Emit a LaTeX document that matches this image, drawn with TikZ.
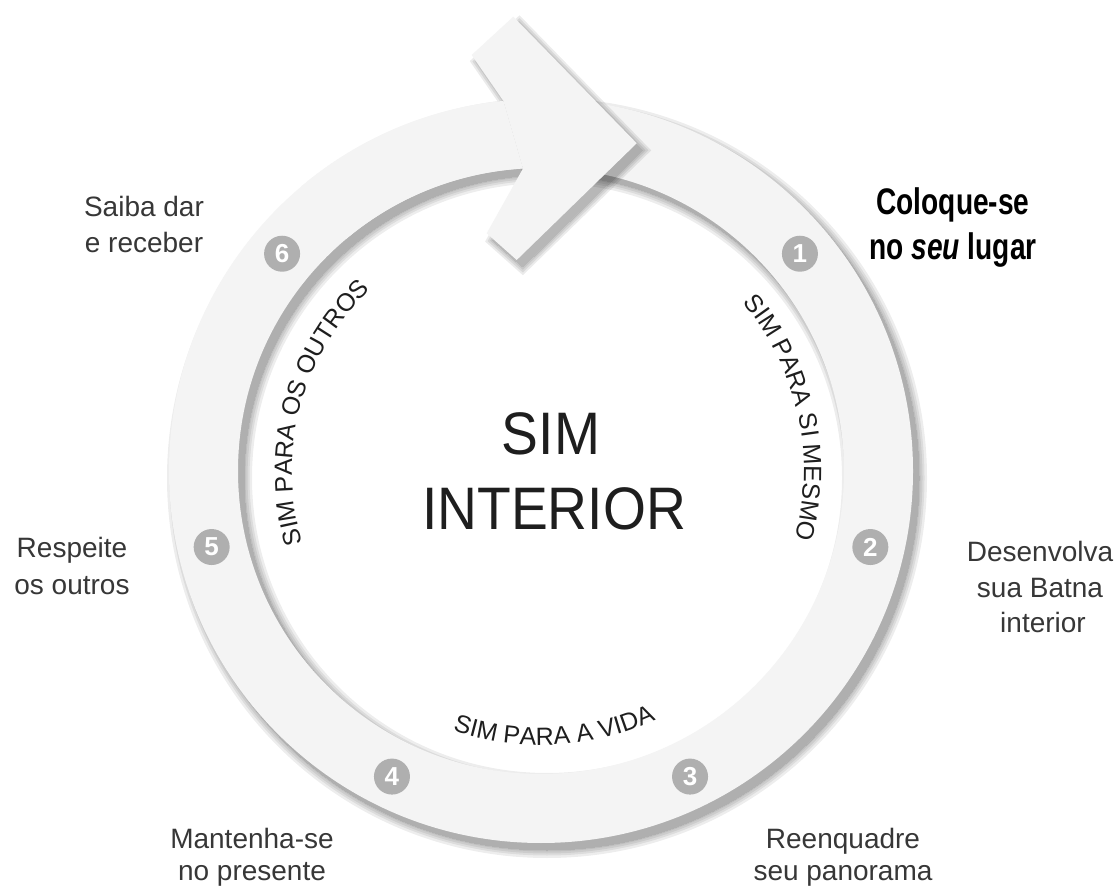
\documentclass[tikz,border=0pt]{standalone}
\usepackage{fontspec}
\setmainfont{Liberation Sans}
\newfontfamily\condfont[FakeStretch=0.76]{Liberation Sans}
\newfontfamily\midfont[FakeStretch=0.92]{Liberation Sans}
\usetikzlibrary{decorations.text,calc}
\definecolor{ringc}{RGB}{244,244,244}
\definecolor{numc}{RGB}{175,175,175}
\definecolor{labc}{RGB}{55,55,55}
\definecolor{inkc}{RGB}{30,30,30}
\newcommand\curvefont{\fontsize{25}{25}\selectfont}
\newcommand\labfont{\fontsize{28}{28}\selectfont}
\tikzset{
  ringshape/.style={insert path={(541,423) circle[radius=372pt] (541,423) circle[radius=303pt]}},
  arrowshape/.style={insert path={(471.7,839) -- (513.3,877.3) -- (636.7,750.7) -- (516.7,634) -- (486.7,660.7) -- (523,725.5) -- (503.4,793.1) -- cycle}},
  numcirc/.style={circle, fill=numc, minimum size=36pt, inner sep=0pt, text=white, font=\fontsize{26}{26}\selectfont\bfseries},
  lab/.style={anchor=base, text=labc, font=\labfont, inner sep=0pt},
  curvetext/.style={decorate, decoration={text along path, text align=center, text={|\curvefont\color{inkc}|#1}}}
}
\begin{document}
\begin{tikzpicture}[x=1pt,y=1pt]
\path[use as bounding box, fill=white] (0,0) rectangle (1118,894);
% ring shadow
\foreach \w in {16,11,7,3,0}{
  \begin{scope}[shift={(6,-7)}, transparency group, opacity=0.07]
    \filldraw[black, even odd rule, line width=\w pt, ringshape];
  \end{scope}
}
% ring
\fill[ringc, even odd rule, ringshape];
% arrowhead shadow
\foreach \w in {12,8,4,0}{
  \begin{scope}[shift={(6,-7)}, transparency group, opacity=0.08]
    \filldraw[black, line width=\w pt, arrowshape];
  \end{scope}
}
% cover ring body left of arrowhead
\fill[ringc] (503.4,793.1) arc[start angle=95.8, end angle=130, radius=372pt]
  -- (346.2,655.1) arc[start angle=130, end angle=93.4, radius=303pt] -- cycle;
% arrowhead
\fill[ringc, arrowshape];

% numbers
\node[numcirc] (n1) at ($(541,423)+(40:338pt)$) {1};
\node[numcirc] (n2) at ($(541,423)+(-13:338pt)$) {2};
\node[numcirc] (n3) at ($(541,423)+(-64:340pt)$) {3};
\node[numcirc] (n4) at ($(541,423)+(244:340pt)$) {4};
\node[numcirc] (n5) at ($(541,423)+(193:338pt)$) {5};
\node[numcirc] (n6) at ($(541,423)+(140:338pt)$) {6};

% curved texts
\path[curvetext={SIM PARA SI MESMO}] ($(541,423)+(47:263pt)$) arc[start angle=47, end angle=-22, radius=263pt];
\path[curvetext={SIM PARA OS OUTROS}] ($(541,423)+(205:249pt)$) arc[start angle=205, end angle=125, radius=249pt];
\path[curvetext={SIM PARA A VIDA}] ($(541,423)+(240:274pt)$) arc[start angle=240, end angle=306, radius=274pt];

% centre
\node[anchor=base, inner sep=0pt, text=inkc, font=\midfont\fontsize{60}{60}\selectfont] (sim) at (551,439) {SIM};
\node[anchor=base, inner sep=0pt, text=inkc, font=\midfont\fontsize{60}{60}\selectfont] (interior) at (554,364) {INTERIOR};

% labels
\node[anchor=base, inner sep=0pt, text=black, font=\condfont\bfseries\fontsize{37}{37}\selectfont] (l1a) at (953,679) {Coloque-se};
\node[anchor=base, inner sep=0pt, text=black, font=\condfont\bfseries\fontsize{37}{37}\selectfont] (l1b) at (953,634) {no \textit{seu} lugar};
\node[lab] (l2a) at (1040,332) {Desenvolva};
\node[lab] (l2b) at (1040,296) {sua Batna};
\node[lab] (l2c) at (1043,261) {interior};
\node[lab] (l3a) at (843,46) {Reenquadre};
\node[lab] (l3b) at (843,14) {seu panorama};
\node[lab] (l4a) at (252,46) {Mantenha-se};
\node[lab] (l4b) at (252,14) {no presente};
\node[lab] (l5a) at (72,336) {Respeite};
\node[lab] (l5b) at (72,299) {os outros};
\node[lab] (l6a) at (144,677) {Saiba dar};
\node[lab] (l6b) at (144,641) {e receber};
\end{tikzpicture}
\end{document}
